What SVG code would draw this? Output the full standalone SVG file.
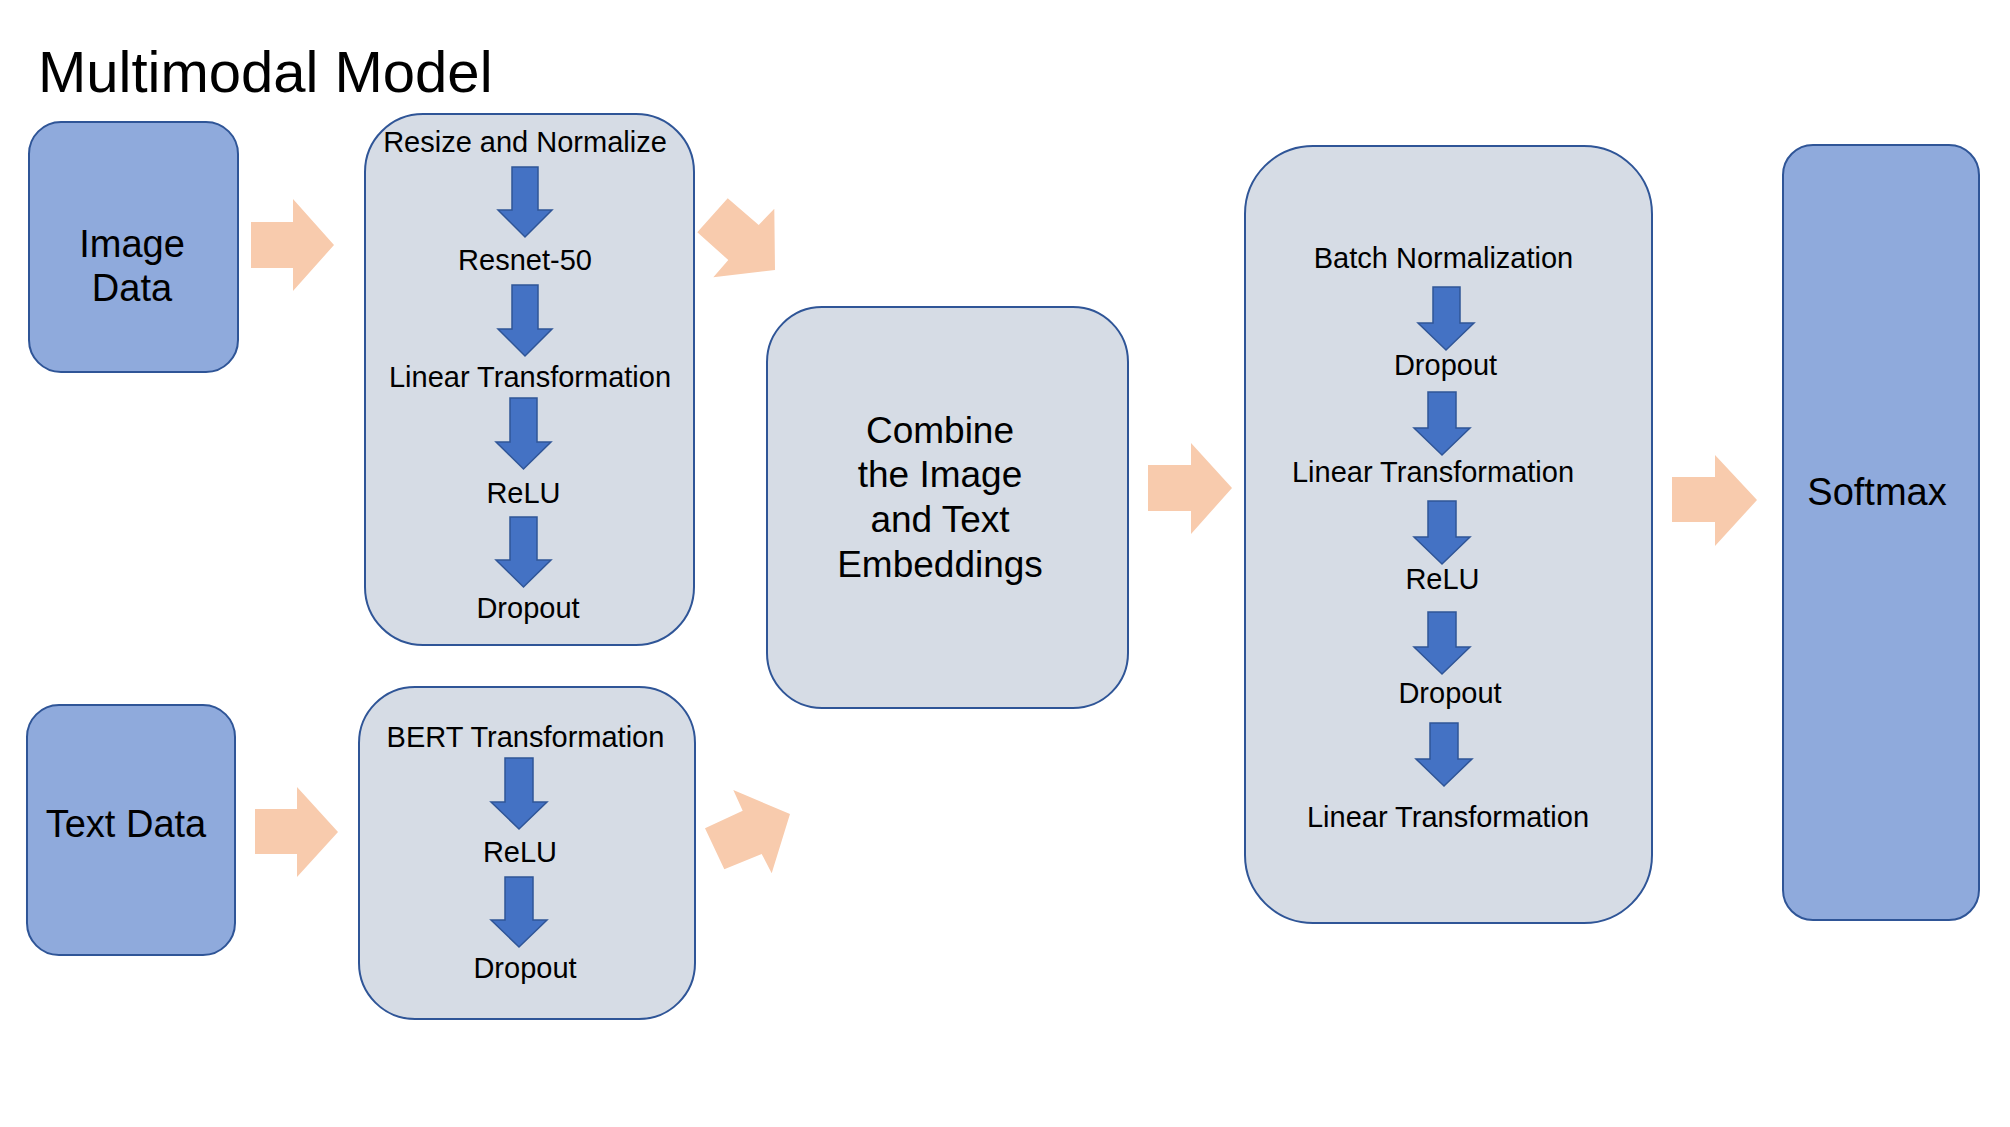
<svg xmlns="http://www.w3.org/2000/svg" width="2010" height="1127" viewBox="0 0 2010 1127">
<style>
.dark{fill:#8FAADC;stroke:#2F5597;stroke-width:2}
.light{fill:#D6DCE5;stroke:#2F5597;stroke-width:2}
.t{font-family:"Liberation Sans",Arial,sans-serif;fill:#000;text-anchor:middle}
.s29{font-size:29px}
.s38{font-size:38px}
.s37{font-size:37px}
.blue{fill:#4472C4;stroke:#2F5597;stroke-width:1.5;stroke-linejoin:miter}
.orange{fill:#F8CBAD;stroke:none}
</style>
<rect width="2010" height="1127" fill="#FFFFFF"/>
<text x="38" y="92" font-family="Liberation Sans, Arial, sans-serif" font-size="58" fill="#000">Multimodal Model</text>

<g id="image-data">
<rect class="dark" x="29" y="122" width="209" height="250" rx="32" ry="32"/>
<text class="t s38" x="132" y="257">Image</text>
<text class="t s38" x="132" y="301">Data</text>
</g>

<g id="text-data">
<rect class="dark" x="27" y="705" width="208" height="250" rx="32" ry="32"/>
<text class="t s38" x="126" y="837">Text Data</text>
</g>

<g id="image-pipeline">
<rect class="light" x="365" y="114" width="329" height="531" rx="58" ry="58"/>
<text class="t s29" x="525" y="152">Resize and Normalize</text>
<polygon class="blue" points="512,167 538,167 538,210 552,210 525,237 498,210 512,210"/>
<text class="t s29" x="525" y="270">Resnet-50</text>
<polygon class="blue" points="512,285 538,285 538,329 552,329 525,356 498,329 512,329"/>
<text class="t s29" x="530" y="387">Linear Transformation</text>
<polygon class="blue" points="510,398 537,398 537,442 551,442 523.5,469 496,442 510,442"/>
<text class="t s29" x="523.5" y="503">ReLU</text>
<polygon class="blue" points="510,517 537,517 537,560 551,560 523.5,587 496,560 510,560"/>
<text class="t s29" x="528" y="618">Dropout</text>
</g>

<g id="text-pipeline">
<rect class="light" x="359" y="687" width="336" height="332" rx="56" ry="56"/>
<text class="t s29" x="525.5" y="747">BERT Transformation</text>
<polygon class="blue" points="505,758 533,758 533,802 547,802 519,829 491,802 505,802"/>
<text class="t s29" x="520" y="862">ReLU</text>
<polygon class="blue" points="505,877 533,877 533,920 547,920 519,947 491,920 505,920"/>
<text class="t s29" x="525" y="978">Dropout</text>
</g>

<g id="combine">
<rect class="light" x="767" y="307" width="361" height="401" rx="55" ry="55"/>
<text class="t s37" x="940" y="443">Combine</text>
<text class="t s37" x="940" y="487">the Image</text>
<text class="t s37" x="940" y="532">and Text</text>
<text class="t s37" x="940" y="577">Embeddings</text>
</g>

<g id="head-pipeline">
<rect class="light" x="1245" y="146" width="407" height="777" rx="68" ry="68"/>
<text class="t s29" x="1443.5" y="268">Batch Normalization</text>
<polygon class="blue" points="1433,287 1460,287 1460,323 1474,323 1446,350 1418,323 1433,323"/>
<text class="t s29" x="1445.5" y="375">Dropout</text>
<polygon class="blue" points="1428,392 1456,392 1456,428 1470,428 1442,455 1414,428 1428,428"/>
<text class="t s29" x="1433" y="482">Linear Transformation</text>
<polygon class="blue" points="1428,501 1456,501 1456,537 1470,537 1442,564 1414,537 1428,537"/>
<text class="t s29" x="1442.5" y="589">ReLU</text>
<polygon class="blue" points="1428,612 1456,612 1456,647 1470,647 1442,674 1414,647 1428,647"/>
<text class="t s29" x="1450" y="703">Dropout</text>
<polygon class="blue" points="1430,723 1458,723 1458,759 1472,759 1444,786 1416,759 1430,759"/>
<text class="t s29" x="1448" y="827">Linear Transformation</text>
</g>

<g id="softmax">
<rect class="dark" x="1783" y="145" width="196" height="775" rx="30" ry="30"/>
<text class="t s38" x="1877" y="505">Softmax</text>
</g>

<g id="connectors">
<polygon class="orange" points="251,222 293,222 293,199 334,245 293,291 293,268 251,268"/>
<polygon class="orange" points="255,809 297,809 297,787 338,832 297,877 297,854 255,854"/>
<polygon class="orange" points="697.3,232.3 727.7,198.3 758.7,225 774.3,208.7 775,270 713.3,277.3 728.3,260"/>
<polygon class="orange" points="705,828.3 742.7,810.7 733.3,790 790,814 771.7,873.3 761.7,854 724.3,869.3"/>
<polygon class="orange" points="1148,465 1191,465 1191,443 1232,488 1191,534 1191,511 1148,511"/>
<polygon class="orange" points="1672,477 1715,477 1715,455 1757,500 1715,546 1715,522 1672,522"/>
</g>
</svg>
